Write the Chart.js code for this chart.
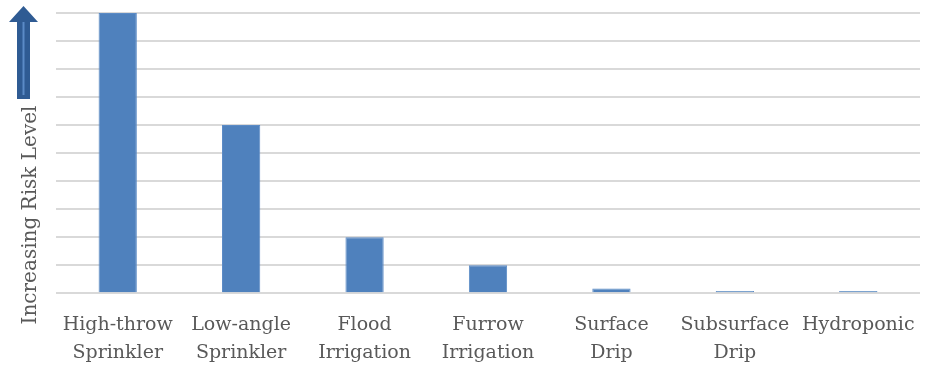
<!DOCTYPE html>
<html>
<head>
<meta charset="utf-8">
<script src="https://cdn.jsdelivr.net/npm/chart.js@4"></script>
<style>
  html, body { margin: 0; padding: 0; background: #fff; }
  #wrap { width: 927px; height: 370px; }
</style>
</head>
<body>
<div id="wrap"><canvas id="riskChart"></canvas></div>
<script>
// categories (two-line labels) and risk values
const categories = [
    ['High-throw', 'Sprinkler'],
    ['Low-angle', 'Sprinkler'],
    ['Flood', 'Irrigation'],
    ['Furrow', 'Irrigation'],
    ['Surface', 'Drip'],
    ['Subsurface', 'Drip'],
    ['Hydroponic']
];
const riskValues = [10, 6, 2, 1, 0.17, 0.08, 0.08];
const yAxisTitle = 'Increasing Risk Level';

const labelFont = "'DejaVu Serif', 'Liberation Serif', serif";

// draws the rotated axis title and the up arrow beside it
const sideArrow = {
    id: 'sideArrow',
    afterDraw(chart) {
        const ctx = chart.ctx;
        ctx.save();
        // arrow
        ctx.fillStyle = '#2f5b93';
        ctx.beginPath();
        ctx.moveTo(23.5, 6);
        ctx.lineTo(38, 22);
        ctx.lineTo(30, 22);
        ctx.lineTo(30, 99);
        ctx.lineTo(17, 99);
        ctx.lineTo(17, 22);
        ctx.lineTo(9, 22);
        ctx.closePath();
        ctx.fill();
        ctx.strokeStyle = '#5b8bc6';
        ctx.lineWidth = 2;
        ctx.beginPath();
        ctx.moveTo(23.5, 22);
        ctx.lineTo(23.5, 95);
        ctx.stroke();
        // title
        ctx.translate(31, 215);
        ctx.rotate(-Math.PI / 2);
        ctx.fillStyle = '#595959';
        ctx.font = "20px " + labelFont;
        ctx.textAlign = 'center';
        ctx.textBaseline = 'middle';
        ctx.fillText(yAxisTitle, 0, 0);
        ctx.restore();
    }
};

const riskConfig = {
    type: 'bar',
    data: {
        labels: categories,
        datasets: [{
            data: riskValues,
            backgroundColor: '#4f81bd',
            borderColor: '#5b8bc6',
            borderWidth: 1,
            categoryPercentage: 1,
            barPercentage: 0.31
        }]
    },
    options: {
        responsive: true,
        maintainAspectRatio: false,
        animation: false,
        layout: { padding: { left: 56, right: 7, top: 13, bottom: -7 } },
        plugins: {
            legend: { display: false },
            tooltip: { enabled: false }
        },
        scales: {
            x: {
                grid: { display: false },
                border: { display: false },
                ticks: {
                    color: '#595959',
                    maxRotation: 0,
                    autoSkip: false,
                    padding: 9,
                    font: { family: labelFont, size: 19, lineHeight: 1.52 }
                }
            },
            y: {
                min: 0,
                max: 10,
                ticks: { display: false, stepSize: 1 },
                grid: { color: '#d9d9d9', lineWidth: 2, drawTicks: false },
                border: { display: false }
            }
        }
    },
    plugins: [sideArrow]
};

const riskChart = new Chart(document.getElementById('riskChart'), riskConfig);
</script>
</body>
</html>
